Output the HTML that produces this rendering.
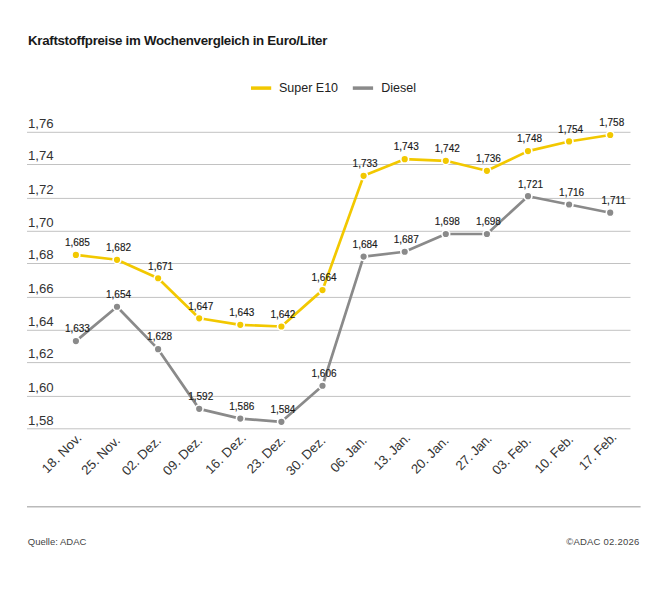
<!DOCTYPE html>
<html><head><meta charset="utf-8"><style>
html,body{margin:0;padding:0;background:#fff;width:668px;height:603px;overflow:hidden}
svg{position:absolute;left:0;top:0;font-family:"Liberation Sans",sans-serif}
.yl{font-size:13.2px;fill:#333}
.xl{font-size:13.2px;fill:#333}
.dl{font-size:10px;letter-spacing:0px;fill:#1a1a1a;stroke:#1a1a1a;stroke-width:0.15px}
.t{font-size:13.3px;font-weight:bold;fill:#1a1a1a;letter-spacing:-0.3px}
.lg{font-size:12.5px;fill:#222}
.ft{font-size:9.5px;fill:#444}
</style></head><body>
<svg width="668" height="603" viewBox="0 0 668 603">
<text x="28" y="45.2" class="t">Kraftstoffpreise im Wochenvergleich in Euro/Liter</text>
<line x1="251" x2="271.2" y1="88.1" y2="88.1" stroke="#f2c800" stroke-width="3.5"/>
<text x="279" y="91.8" class="lg">Super E10</text>
<line x1="352.8" x2="373.1" y1="88.1" y2="88.1" stroke="#8a8a8a" stroke-width="3.5"/>
<text x="381.2" y="91.8" class="lg">Diesel</text>
<line x1="27" x2="630.5" y1="132.30" y2="132.30" stroke="#c2c2c2" stroke-width="1"/>
<text x="28" y="128.00" class="yl">1,76</text>
<line x1="27" x2="630.5" y1="164.50" y2="164.50" stroke="#c2c2c2" stroke-width="1"/>
<text x="28" y="160.20" class="yl">1,74</text>
<line x1="27" x2="630.5" y1="198.40" y2="198.40" stroke="#c2c2c2" stroke-width="1"/>
<text x="28" y="194.10" class="yl">1,72</text>
<line x1="27" x2="630.5" y1="231.30" y2="231.30" stroke="#c2c2c2" stroke-width="1"/>
<text x="28" y="227.00" class="yl">1,70</text>
<line x1="27" x2="630.5" y1="263.50" y2="263.50" stroke="#c2c2c2" stroke-width="1"/>
<text x="28" y="259.20" class="yl">1,68</text>
<line x1="27" x2="630.5" y1="297.40" y2="297.40" stroke="#c2c2c2" stroke-width="1"/>
<text x="28" y="293.10" class="yl">1,66</text>
<line x1="27" x2="630.5" y1="330.30" y2="330.30" stroke="#c2c2c2" stroke-width="1"/>
<text x="28" y="326.00" class="yl">1,64</text>
<line x1="27" x2="630.5" y1="362.60" y2="362.60" stroke="#c2c2c2" stroke-width="1"/>
<text x="28" y="358.30" class="yl">1,62</text>
<line x1="27" x2="630.5" y1="396.40" y2="396.40" stroke="#c2c2c2" stroke-width="1"/>
<text x="28" y="392.10" class="yl">1,60</text>
<line x1="27" x2="630.5" y1="428.80" y2="428.80" stroke="#c2c2c2" stroke-width="1"/>
<text x="28" y="424.50" class="yl">1,58</text>
<text class="xl" text-anchor="end" textLength="49.83" lengthAdjust="spacing" transform="translate(82.40,438.70) rotate(-45)">18. Nov.</text>
<text class="xl" text-anchor="end" transform="translate(120.80,441.40) rotate(-45)">25. Nov.</text>
<text class="xl" text-anchor="end" transform="translate(161.90,441.40) rotate(-45)">02. Dez.</text>
<text class="xl" text-anchor="end" transform="translate(203.00,441.40) rotate(-45)">09. Dez.</text>
<text class="xl" text-anchor="end" textLength="51.11" lengthAdjust="spacing" transform="translate(246.80,438.70) rotate(-45)">16. Dez.</text>
<text class="xl" text-anchor="end" textLength="47.71" lengthAdjust="spacing" transform="translate(286.05,440.55) rotate(-45)">23. Dez.</text>
<text class="xl" text-anchor="end" transform="translate(326.30,441.40) rotate(-45)">30. Dez.</text>
<text class="xl" text-anchor="end" textLength="45.22" lengthAdjust="spacing" transform="translate(367.61,441.19) rotate(-45)">06. Jan.</text>
<text class="xl" text-anchor="end" textLength="45.42" lengthAdjust="spacing" transform="translate(411.20,438.70) rotate(-45)">13. Jan.</text>
<text class="xl" text-anchor="end" transform="translate(449.60,441.40) rotate(-45)">20. Jan.</text>
<text class="xl" text-anchor="end" textLength="44.72" lengthAdjust="spacing" transform="translate(492.68,439.42) rotate(-45)">27. Jan.</text>
<text class="xl" text-anchor="end" transform="translate(531.80,441.40) rotate(-45)">03. Feb.</text>
<text class="xl" text-anchor="end" transform="translate(574.19,440.11) rotate(-45)">10. Feb.</text>
<text class="xl" text-anchor="end" textLength="46.78" lengthAdjust="spacing" transform="translate(617.41,437.99) rotate(-45)">17. Feb.</text>
<polyline points="75.90,341.11 117.00,306.77 158.10,349.18 199.20,408.86 240.30,418.58 281.40,421.82 322.50,385.76 363.60,256.56 404.70,251.73 445.80,234.02 486.90,234.02 528.00,196.20 569.10,204.48 610.20,212.70" fill="none" stroke="#8a8a8a" stroke-width="2.7" stroke-linejoin="round"/>
<circle cx="75.90" cy="341.11" r="3.9" fill="#8a8a8a" stroke="#fff" stroke-width="1.6"/>
<circle cx="117.00" cy="306.77" r="3.9" fill="#8a8a8a" stroke="#fff" stroke-width="1.6"/>
<circle cx="158.10" cy="349.18" r="3.9" fill="#8a8a8a" stroke="#fff" stroke-width="1.6"/>
<circle cx="199.20" cy="408.86" r="3.9" fill="#8a8a8a" stroke="#fff" stroke-width="1.6"/>
<circle cx="240.30" cy="418.58" r="3.9" fill="#8a8a8a" stroke="#fff" stroke-width="1.6"/>
<circle cx="281.40" cy="421.82" r="3.9" fill="#8a8a8a" stroke="#fff" stroke-width="1.6"/>
<circle cx="322.50" cy="385.76" r="3.9" fill="#8a8a8a" stroke="#fff" stroke-width="1.6"/>
<circle cx="363.60" cy="256.56" r="3.9" fill="#8a8a8a" stroke="#fff" stroke-width="1.6"/>
<circle cx="404.70" cy="251.73" r="3.9" fill="#8a8a8a" stroke="#fff" stroke-width="1.6"/>
<circle cx="445.80" cy="234.02" r="3.9" fill="#8a8a8a" stroke="#fff" stroke-width="1.6"/>
<circle cx="486.90" cy="234.02" r="3.9" fill="#8a8a8a" stroke="#fff" stroke-width="1.6"/>
<circle cx="528.00" cy="196.20" r="3.9" fill="#8a8a8a" stroke="#fff" stroke-width="1.6"/>
<circle cx="569.10" cy="204.48" r="3.9" fill="#8a8a8a" stroke="#fff" stroke-width="1.6"/>
<circle cx="610.20" cy="212.70" r="3.9" fill="#8a8a8a" stroke="#fff" stroke-width="1.6"/>
<polyline points="75.90,254.95 117.00,259.78 158.10,278.25 199.20,318.28 240.30,324.87 281.40,326.51 322.50,290.12 363.60,175.86 404.70,159.17 445.80,160.78 486.90,170.78 528.00,151.12 569.10,141.46 610.20,135.02" fill="none" stroke="#f2c800" stroke-width="2.7" stroke-linejoin="round"/>
<circle cx="75.90" cy="254.95" r="3.9" fill="#f2c800" stroke="#fff" stroke-width="1.6"/>
<circle cx="117.00" cy="259.78" r="3.9" fill="#f2c800" stroke="#fff" stroke-width="1.6"/>
<circle cx="158.10" cy="278.25" r="3.9" fill="#f2c800" stroke="#fff" stroke-width="1.6"/>
<circle cx="199.20" cy="318.28" r="3.9" fill="#f2c800" stroke="#fff" stroke-width="1.6"/>
<circle cx="240.30" cy="324.87" r="3.9" fill="#f2c800" stroke="#fff" stroke-width="1.6"/>
<circle cx="281.40" cy="326.51" r="3.9" fill="#f2c800" stroke="#fff" stroke-width="1.6"/>
<circle cx="322.50" cy="290.12" r="3.9" fill="#f2c800" stroke="#fff" stroke-width="1.6"/>
<circle cx="363.60" cy="175.86" r="3.9" fill="#f2c800" stroke="#fff" stroke-width="1.6"/>
<circle cx="404.70" cy="159.17" r="3.9" fill="#f2c800" stroke="#fff" stroke-width="1.6"/>
<circle cx="445.80" cy="160.78" r="3.9" fill="#f2c800" stroke="#fff" stroke-width="1.6"/>
<circle cx="486.90" cy="170.78" r="3.9" fill="#f2c800" stroke="#fff" stroke-width="1.6"/>
<circle cx="528.00" cy="151.12" r="3.9" fill="#f2c800" stroke="#fff" stroke-width="1.6"/>
<circle cx="569.10" cy="141.46" r="3.9" fill="#f2c800" stroke="#fff" stroke-width="1.6"/>
<circle cx="610.20" cy="135.02" r="3.9" fill="#f2c800" stroke="#fff" stroke-width="1.6"/>
<text x="77.40" y="246.25" class="dl" text-anchor="middle">1,685</text>
<text x="118.50" y="251.08" class="dl" text-anchor="middle">1,682</text>
<text x="160.60" y="269.55" class="dl" text-anchor="middle">1,671</text>
<text x="200.70" y="309.58" class="dl" text-anchor="middle">1,647</text>
<text x="241.80" y="316.17" class="dl" text-anchor="middle">1,643</text>
<text x="282.90" y="317.81" class="dl" text-anchor="middle">1,642</text>
<text x="324.00" y="281.42" class="dl" text-anchor="middle">1,664</text>
<text x="365.10" y="167.16" class="dl" text-anchor="middle">1,733</text>
<text x="406.20" y="150.47" class="dl" text-anchor="middle">1,743</text>
<text x="447.30" y="152.08" class="dl" text-anchor="middle">1,742</text>
<text x="488.40" y="162.08" class="dl" text-anchor="middle">1,736</text>
<text x="529.50" y="142.42" class="dl" text-anchor="middle">1,748</text>
<text x="570.60" y="132.76" class="dl" text-anchor="middle">1,754</text>
<text x="611.70" y="126.32" class="dl" text-anchor="middle">1,758</text>
<text x="77.40" y="332.41" class="dl" text-anchor="middle">1,633</text>
<text x="118.50" y="298.07" class="dl" text-anchor="middle">1,654</text>
<text x="159.60" y="340.48" class="dl" text-anchor="middle">1,628</text>
<text x="200.70" y="400.16" class="dl" text-anchor="middle">1,592</text>
<text x="241.80" y="409.88" class="dl" text-anchor="middle">1,586</text>
<text x="282.90" y="413.12" class="dl" text-anchor="middle">1,584</text>
<text x="324.00" y="377.06" class="dl" text-anchor="middle">1,606</text>
<text x="365.10" y="247.86" class="dl" text-anchor="middle">1,684</text>
<text x="406.20" y="243.03" class="dl" text-anchor="middle">1,687</text>
<text x="447.30" y="225.32" class="dl" text-anchor="middle">1,698</text>
<text x="488.40" y="225.32" class="dl" text-anchor="middle">1,698</text>
<text x="530.50" y="187.50" class="dl" text-anchor="middle">1,721</text>
<text x="571.60" y="195.78" class="dl" text-anchor="middle">1,716</text>
<text x="613.70" y="204.00" class="dl" text-anchor="middle">1,711</text>
<line x1="27" x2="640.6" y1="506.8" y2="506.8" stroke="#bababa" stroke-width="1.4"/>
<text x="27.8" y="544.7" class="ft">Quelle: ADAC</text>
<text x="639.4" y="544.7" class="ft" text-anchor="end" style="letter-spacing:0.22px">©ADAC 02.2026</text>
</svg>
</body></html>
